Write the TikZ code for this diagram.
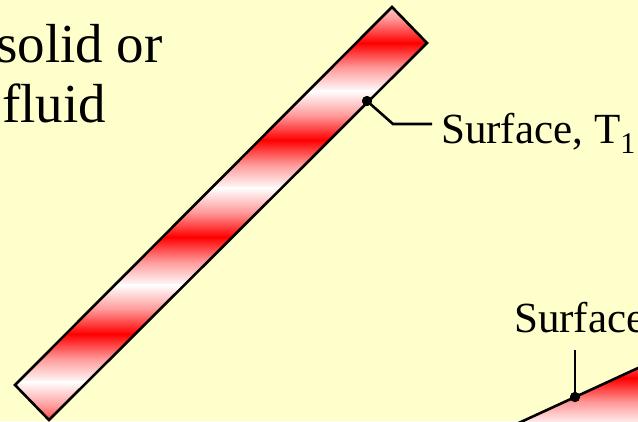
\documentclass[tikz,border=0pt]{standalone}
\usepackage{fontspec}
\setmainfont{Liberation Serif}
\definecolor{bg}{HTML}{FFFFCC}
\pgfdeclareverticalshading{stripeshade}{100bp}{color(0bp)=(white); color(25bp)=(white); color(37.5bp)=(red!40); color(50bp)=(red); color(62.5bp)=(red!40); color(75bp)=(white); color(100bp)=(white)}
\begin{document}
\begin{tikzpicture}[x=1pt,y=-1pt,
  outline/.style={line width=2.6pt, line join=miter},
  lead/.style={line width=2.6pt},
  dotmark/.style={circle, fill=black, inner sep=0pt, minimum size=10pt},
  lbl/.style={inner sep=0pt, font=\fontsize{43}{52}\selectfont},
  big/.style={inner sep=0pt, font=\fontsize{55}{60}\selectfont}]
\useasboundingbox (0,0) rectangle (638,421);
\fill[bg] (0,0) rectangle (638,421);
\begin{scope}
\clip (0,0) rectangle (638,421);
% first bar
\coordinate (a1) at (15,385);
\coordinate (a2) at (392,7);
\coordinate (a3) at (427,43);
\coordinate (a4) at (49,420);
\begin{scope}
\clip (a1)--(a2)--(a3)--(a4)--cycle;
\foreach \w in {-5.5,91.5,188.5,285.5,382.5}
  \shade[shading=stripeshade] (0,\w-0.6) rectangle (640,\w+97.6);
\end{scope}
\draw[outline] (a1)--(a2)--(a3)--(a4)--cycle;
% second bar (partly visible)
\coordinate (b1) at (500,431.6);
\coordinate (b2) at (660,357.9);
\begin{scope}
\clip (b1)--(b2)--(660,440)--(500,440)--cycle;
\foreach \w in {330,426}
  \shade[shading=stripeshade] (490,\w-0.6) rectangle (670,\w+96.6);
\end{scope}
\draw[outline] (b1)--(b2);
% labels
\node[big, anchor=base east] (sol) at (163,62) {solid or};
\node[big, anchor=base west] (flu) at (2,122) {fluid};
\node[lbl, anchor=base west] (t1) at (441,143) {Surface, T\raisebox{-10pt}{\fontsize{30}{30}\selectfont 1}};
\node[lbl, anchor=base west] (s2) at (514,332) {Surface};
% leaders
\coordinate (k1) at (393,124);
\coordinate (k1e) at (432,124);
\coordinate (k2) at (575,350);
\node[dotmark] (d1) at (367,101) {};
\node[dotmark] (d2) at (575,397) {};
\draw[lead] (d1.center) -- (k1) -- (k1e);
\draw[lead] (d2.center) -- (k2);
\node[dotmark] at (d1.center) {};
\node[dotmark] at (d2.center) {};
\end{scope}
\end{tikzpicture}
\end{document}
